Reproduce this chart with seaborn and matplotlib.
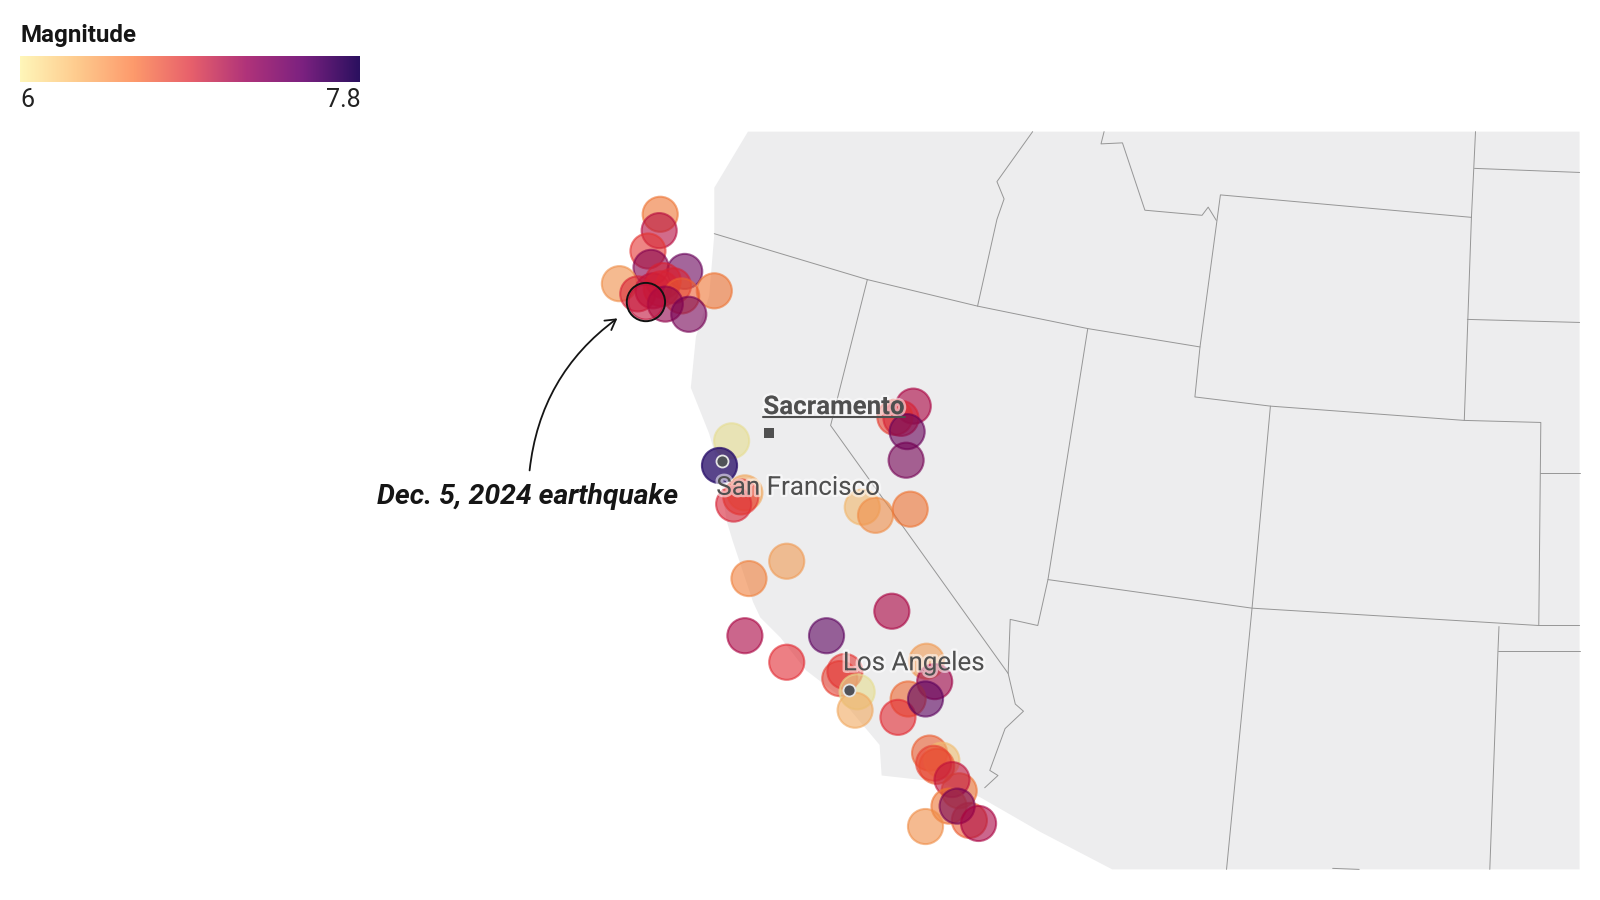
import matplotlib
matplotlib.use("Agg")
import matplotlib.pyplot as plt
import matplotlib.patheffects as pe
from matplotlib.colors import LinearSegmentedColormap
import numpy as np
import pandas as pd
import seaborn as sns

# Quakes (projected map units, y goes down)
quake_x = [647, 646, 635, 638, 671, 607, 625, 700, 650, 640, 648, 660, 668, 652, 675, 633,
           895, 877, 883, 889, 888,
           717, 705, 730, 719, 726, 845, 858, 892,
           771, 734, 874, 730, 810, 771, 823, 828, 840, 838,
           908, 916, 890, 880, 907,
           911, 923, 918, 915, 940, 933, 930, 950, 938, 959, 907]
quake_y = [210, 226, 246, 262, 266, 278, 288, 285, 275, 285, 283, 280, 290, 298, 308, 296,
           398, 409, 410, 423, 451,
           432, 456, 483, 494, 487, 497, 505, 499,
           550, 567, 599, 623, 623, 649, 665, 658, 678, 696,
           648, 668, 685, 703, 685,
           738, 745, 751, 748, 775, 764, 790, 804, 790, 807, 810]
quake_mag = [6.6, 7.15, 6.9, 7.35, 7.45, 6.5, 7.0, 6.6, 7.0, 7.1, 7.0, 7.0, 6.7, 7.3, 7.4, 7.1,
             7.2, 6.85, 7.0, 7.45, 7.4,
             6.05, 7.8, 6.4, 7.0, 6.9, 6.35, 6.5, 6.6,
             6.45, 6.55, 7.2, 7.2, 7.5, 6.95, 6.85, 6.9, 6.05, 6.4,
             6.45, 7.25, 6.65, 6.95, 7.5,
             6.7, 6.3, 6.7, 6.85, 6.6, 7.1, 6.6, 6.7, 7.4, 7.2, 6.5]

# Land outline
land_x = [733, 1548, 1548, 1090, 1019, 1000, 960, 918, 864, 862, 820, 790, 765, 745, 738,
          718, 712, 705, 695, 677, 682, 695, 700, 700]
land_y = [129, 129, 852, 852, 815, 804, 781, 766, 760, 730, 680, 657, 625, 605, 590,
          530, 510, 460, 425, 380, 330, 290, 230, 184]

# State borders
borders = [
    [(700, 229), (850, 274), (958, 300), (1066, 322), (1176, 340)],
    [(1012, 129), (977, 178), (984, 195), (977, 215), (958, 300)],
    [(1082, 129), (1079, 141), (1100, 140), (1122, 206), (1178, 211), (1184, 203), (1192, 216)],
    [(1446, 129), (1442, 213), (1196, 191), (1176, 340), (1171, 389), (1245, 398), (1435, 412), (1442, 213)],
    [(850, 274), (814, 417), (988, 660), (995, 690), (1003, 697), (985, 714), (970, 755), (978, 760), (965, 772)],
    [(1066, 322), (1027, 568), (1017, 613), (990, 607), (988, 660)],
    [(1027, 568), (1227, 596), (1508, 613), (1548, 613)],
    [(1245, 398), (1227, 596), (1202, 852)],
    [(1435, 412), (1510, 414), (1508, 613)],
    [(1469, 614), (1468, 638), (1460, 852)],
    [(1468, 638), (1548, 638)],
    [(1509, 464), (1548, 464)],
    [(1438, 313), (1548, 316)],
    [(1445, 165), (1548, 169)],
    [(1306, 851), (1332, 852)],
]

cities = ["San Francisco", "Los Angeles"]
city_x = [708, 832]
city_y = [452, 676]
city_label_x = [702, 826]
city_label_y = [477, 649]

legend_colors = ["#fff6b9", "#fecb8e", "#fd9a6c", "#e8616b", "#b0337a", "#7b2180", "#2b105f"]

# Marks are more saturated than the legend, the original multiplies them over the map
mark_stops = [(0.0, "#e4e496"), (0.19, "#f2b76c"), (0.33, "#ee7432"), (0.53, "#e22a32"),
              (0.67, "#a80040"), (0.83, "#5c005c"), (1.0, "#2f166e")]

df = pd.DataFrame({"x": quake_x, "y": quake_y, "mag": quake_mag})

sns.set_theme(style="white")
plt.rcParams["font.family"] = ["Roboto", "DejaVu Sans"]

fig = plt.figure(figsize=(16, 9), dpi=100)
ax = fig.add_axes([0, 0, 1, 1])
cmap = sns.blend_palette(legend_colors, as_cmap=True)
mark_cmap = LinearSegmentedColormap.from_list("marks", mark_stops)

# Map
ax.fill(land_x, land_y, color="#ededee", lw=0, zorder=1)
for line in borders:
    xs, ys = zip(*line)
    ax.plot(xs, ys, color="#969696", lw=0.7, zorder=2)

# Quakes
strong = df.mag >= 7.7
sns.scatterplot(data=df[~strong], x="x", y="y", hue="mag", hue_norm=(6, 7.8), palette=mark_cmap,
                s=640, alpha=0.6, edgecolor="face", linewidth=1.5, legend=False, ax=ax, zorder=3)
sns.scatterplot(data=df[strong], x="x", y="y", hue="mag", hue_norm=(6, 7.8), palette=mark_cmap,
                s=640, alpha=0.8, edgecolor="face", linewidth=1.5, legend=False, ax=ax, zorder=3)

# Dec. 5 quake gets a black ring
dec5 = df[(df.x == 633) & (df.y == 296)]
ax.scatter(dec5.x, dec5.y, s=760, facecolor="none", edgecolor="#111111", linewidth=1.4, zorder=4)

# Cities
halo = [pe.withStroke(linewidth=3.5, foreground="white", alpha=0.55)]
for name, cx, cy, lx, ly in zip(cities, city_x, city_y, city_label_x, city_label_y):
    ax.scatter([cx], [cy], s=75, color="#505258", edgecolor="#e6e6e6", linewidth=1.3, zorder=5)
    ax.text(lx, ly + 1, name, fontsize=18.7, color="#4f4f4f", va="center", ha="left",
            path_effects=halo, zorder=6)

ax.scatter([754], [424], marker="s", s=55, color="#505050", lw=0, zorder=5)
ax.text(748, 399, "Sacramento", fontsize=18.7, fontweight="bold", color="#4f4f4f", va="center",
        ha="left", path_effects=halo, zorder=6)
ax.plot([748, 887], [409, 409], color="#4f4f4f", lw=1.5, zorder=6)

# Annotation
ax.text(517.5, 487, "Dec. 5, 2024 earthquake", fontsize=20.4, fontweight="bold", fontstyle="italic",
        color="#151515", ha="center", va="center", zorder=6)
ax.annotate("", xy=(605, 312), xytext=(519, 461),
            arrowprops=dict(arrowstyle="->,head_length=0.6,head_width=0.35", color="#151515", lw=1.3,
                            connectionstyle="arc3,rad=-0.22", shrinkA=0, shrinkB=0), zorder=6)

# Colour legend
ax.imshow(np.linspace(0, 1, 256).reshape(1, -1), cmap=cmap, extent=(20, 353, 80, 55), aspect="auto", zorder=6)
ax.text(20, 35, "Magnitude", fontsize=17.4, fontweight="bold", color="#151515", va="center", ha="left")
ax.text(20, 98, "6", fontsize=18, color="#222222", va="center", ha="left")
ax.text(353, 98, "7.8", fontsize=18, color="#222222", va="center", ha="right")

ax.set_xlim(0, 1568)
ax.set_ylim(882, 0)
ax.axis("off")

fig.savefig("out.png", dpi=100, facecolor="white")
